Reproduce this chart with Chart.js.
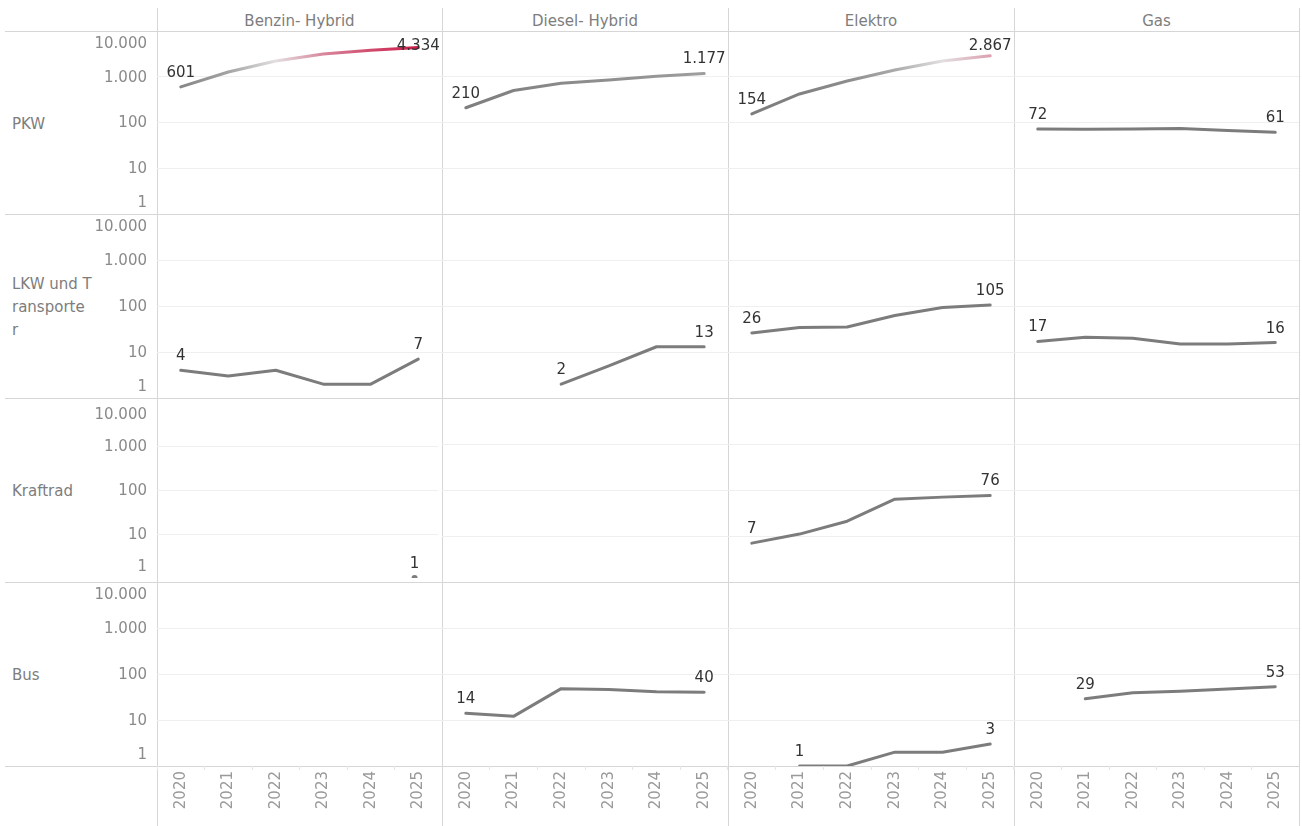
<!DOCTYPE html>
<html lang="de">
<head>
<meta charset="utf-8">
<title>Neuzulassungen nach Kraftstoff</title>
<script src="https://cdn.jsdelivr.net/npm/chart.js@4"></script>
<style>
  html, body { margin: 0; padding: 0; background: #fff; }
  body { width: 1302px; height: 826px; position: relative; overflow: hidden;
         font-family: "DejaVu Sans", sans-serif; }
  .vline, .hline { position: absolute; background: #d6d6d6; }
  .vline { width: 1px; top: 8px; bottom: 0; }
  .hline { height: 1px; left: 5px; width: 1295px; }
  .colhead { position: absolute; top: 11px; font-size: 15px; color: #7d7d7d;
             text-align: center; line-height: 20px; }
  .rowhead { position: absolute; left: 12px; font-size: 15px; color: #7d7d7d;
             line-height: 23px; transform: translateY(-50%); }
  .cell { position: absolute; }
</style>
</head>
<body>
<div id="frame"></div>

<script>
/* ── Data ──────────────────────────────────────────────────────────────── */
const years = ["2020", "2021", "2022", "2023", "2024", "2025"];
const fuelTypes = ["Benzin- Hybrid", "Diesel- Hybrid", "Elektro", "Gas"];
const vehicleTypes = ["PKW", "LKW und T\nransporte\nr", "Kraftrad", "Bus"];
const yTicks = [1, 10, 100, 1000, 10000];

const pkwBenzin  = [601, 1270, 2200, 3150, 3800, 4334];
const pkwDiesel  = [210, 500, 720, 850, 1030, 1177];
const pkwElektro = [154, 420, 810, 1400, 2200, 2867];
const pkwGas     = [72, 71, 72, 74, 67, 61];

const lkwBenzin  = [4, 3, 4, 2, 2, 7];
const lkwDiesel  = [null, null, 2, 5, 13, 13];
const lkwElektro = [26, 34, 35, 62, 93, 105];
const lkwGas     = [17, 21, 20, 15, 15, 16];

const kradBenzin  = [null, null, null, null, null, 1];
const kradDiesel  = [null, null, null, null, null, null];
const kradElektro = [7, 11, 21, 63, 70, 76];
const kradGas     = [null, null, null, null, null, null];

const busBenzin  = [null, null, null, null, null, null];
const busDiesel  = [14, 12, 48, 46, 41, 40];
const busElektro = [null, 1, 1, 2, 2, 3];
const busGas     = [null, 29, 39, 42, 47, 53];

const cells = [
  [pkwBenzin, pkwDiesel, pkwElektro, pkwGas],
  [lkwBenzin, lkwDiesel, lkwElektro, lkwGas],
  [kradBenzin, kradDiesel, kradElektro, kradGas],
  [busBenzin, busDiesel, busElektro, busGas],
];

/* ── Layout (panel edges in page pixels) ───────────────────────────────── */
const colX = [157, 442, 728, 1014, 1299];
const rowY = [31, 214, 398, 582, 766];
const PAGE_H = 826;

/* ── Colour scale: grey → light → crimson by value ─────────────────────── */
const colorMax = Math.max(...cells.flat(2).filter((v) => v != null));
const colorMid = colorMax / 2;
const LOW = [124, 124, 124], MID = [226, 226, 226], HIGH = [204, 26, 72];

function mix(a, b, t) {
  t = Math.max(0, Math.min(1, t));
  return `rgb(${a.map((v, i) => Math.round(v + (b[i] - v) * t)).join(",")})`;
}
function colorFor(v) {
  return v <= colorMid ? mix(LOW, MID, Math.pow(v / colorMid, 1.8))
                       : mix(MID, HIGH, (v - colorMid) / (colorMax - colorMid));
}

function fmt(v) {
  return String(v).replace(/\B(?=(\d{3})+(?!\d))/g, ".");
}

function lineGradient(chart, values) {
  const { ctx, chartArea, scales } = chart;
  const idx = values.map((v, i) => (v == null ? -1 : i)).filter((i) => i >= 0);
  if (!chartArea || idx.length < 2) return colorFor(idx.length ? values[idx[0]] : 0);
  const x0 = scales.x.getPixelForValue(idx[0]);
  const x1 = scales.x.getPixelForValue(idx[idx.length - 1]);
  const g = ctx.createLinearGradient(x0, 0, x1, 0);
  idx.forEach((i) => {
    g.addColorStop((scales.x.getPixelForValue(i) - x0) / (x1 - x0), colorFor(values[i]));
  });
  return g;
}

/* ── Plugins ───────────────────────────────────────────────────────────── */
const yTickLabels = {
  id: "yTickLabels",
  afterDraw(chart, args, opts) {
    if (!opts.show) return;
    const { ctx, chartArea, scales: { y } } = chart;
    ctx.save();
    ctx.font = '15px "DejaVu Sans", sans-serif';
    ctx.fillStyle = "#8a8a8a";
    ctx.textAlign = "right";
    ctx.textBaseline = "middle";
    y.ticks.forEach((t) => {
      const py = Math.min(Math.max(y.getPixelForValue(t.value) + 1, chartArea.top + 13), chartArea.bottom - 11);
      ctx.fillText(fmt(t.value), chartArea.left - 10, py);
    });
    ctx.restore();
  },
};

// first and last value of each line, kept inside the pane
const endLabels = {
  id: "endLabels",
  afterDatasetsDraw(chart) {
    const { ctx, chartArea } = chart;
    ctx.save();
    ctx.font = '15px "DejaVu Sans", sans-serif';
    ctx.fillStyle = "#333333";
    ctx.textAlign = "center";
    ctx.textBaseline = "middle";
    chart.data.datasets.forEach((ds, di) => {
      const meta = chart.getDatasetMeta(di);
      const idx = ds.data.map((v, i) => (v == null ? -1 : i)).filter((i) => i >= 0);
      if (!idx.length) return;
      [...new Set([idx[0], idx[idx.length - 1]])].forEach((i) => {
        const pt = meta.data[i];
        const ly = Math.max(pt.y - 14, chartArea.top + 15);
        ctx.fillText(fmt(ds.data[i]), pt.x, ly);
      });
    });
    ctx.restore();
  },
};

/* ── Frame: separators and headers ─────────────────────────────────────── */
const frame = document.getElementById("frame");

colX.forEach((x) => {
  const d = document.createElement("div");
  d.className = "vline";
  d.style.left = x + "px";
  frame.appendChild(d);
});
rowY.forEach((y) => {
  const d = document.createElement("div");
  d.className = "hline";
  d.style.top = y + "px";
  frame.appendChild(d);
});
fuelTypes.forEach((name, c) => {
  const d = document.createElement("div");
  d.className = "colhead";
  d.style.left = colX[c] + "px";
  d.style.width = colX[c + 1] - colX[c] + "px";
  d.textContent = name;
  frame.appendChild(d);
});
vehicleTypes.forEach((name, r) => {
  const d = document.createElement("div");
  d.className = "rowhead";
  d.style.top = (rowY[r] + rowY[r + 1]) / 2 + 1 + "px";
  d.innerHTML = name.split("\n").join("<br>");
  frame.appendChild(d);
});

/* ── Charts ────────────────────────────────────────────────────────────── */
Chart.defaults.font.family = '"DejaVu Sans", sans-serif';
Chart.defaults.font.size = 15;

cells.forEach((row, r) => {
  row.forEach((values, c) => {
    const isBottom = r === cells.length - 1;
    const isLeft = c === 0;
    const left = isLeft ? 0 : colX[c];
    const top = rowY[r];
    const width = colX[c + 1] - left;
    const height = (isBottom ? PAGE_H : rowY[r + 1]) - top;

    const box = document.createElement("div");
    box.className = "cell";
    Object.assign(box.style, { left: left + "px", top: top + "px", width: width + "px", height: height + "px" });
    const canvas = document.createElement("canvas");
    box.appendChild(canvas);
    document.body.appendChild(box);

    const nonNull = values.filter((v) => v != null).length;

    new Chart(canvas, {
      type: "line",
      data: {
        labels: years,
        datasets: [{
          data: values,
          borderColor: (ctx) => lineGradient(ctx.chart, values),
          backgroundColor: colorFor(1),
          borderWidth: 3,
          borderCapStyle: "round",
          borderJoinStyle: "round",
          pointRadius: nonNull === 1 ? 3 : 0,
          pointBorderWidth: 0,
          pointBackgroundColor: "#7c7c7c",
          spanGaps: false,
          tension: 0,
        }],
      },
      options: {
        responsive: true,
        maintainAspectRatio: false,
        animation: false,
        events: [],
        layout: { padding: { left: isLeft ? colX[0] : 0, top: 0, right: 0, bottom: 0 } },
        plugins: {
          legend: { display: false },
          tooltip: { enabled: false },
          yTickLabels: { show: isLeft },
        },
        scales: {
          x: {
            type: "category",
            offset: true,
            display: isBottom,
            border: { display: false },
            grid: {
              display: true,
              drawOnChartArea: false,
              drawTicks: true,
              tickLength: 4,
              offset: true,
              color: "#e6e6e6",
            },
            ticks: {
              autoSkip: false,
              minRotation: 90,
              maxRotation: 90,
              padding: 1,
              color: "#9a9a9a",
              font: { size: 15 },
            },
            afterFit: (s) => { if (isBottom) s.height = PAGE_H - rowY[rowY.length - 1]; },
          },
          y: {
            type: "logarithmic",
            min: 1,
            max: 10000,
            display: true,
            border: { display: false },
            afterBuildTicks: (s) => { s.ticks = yTicks.map((v) => ({ value: v })); },
            afterFit: (s) => { s.width = 0; },
            ticks: { display: false },
            grid: {
              drawTicks: false,
              color: (ctx) => (ctx.tick && (ctx.tick.value === 1 || ctx.tick.value === 10000))
                ? "rgba(0,0,0,0)" : "#efefef",
            },
          },
        },
      },
      plugins: [yTickLabels, endLabels],
    });
  });
});
</script>
</body>
</html>
